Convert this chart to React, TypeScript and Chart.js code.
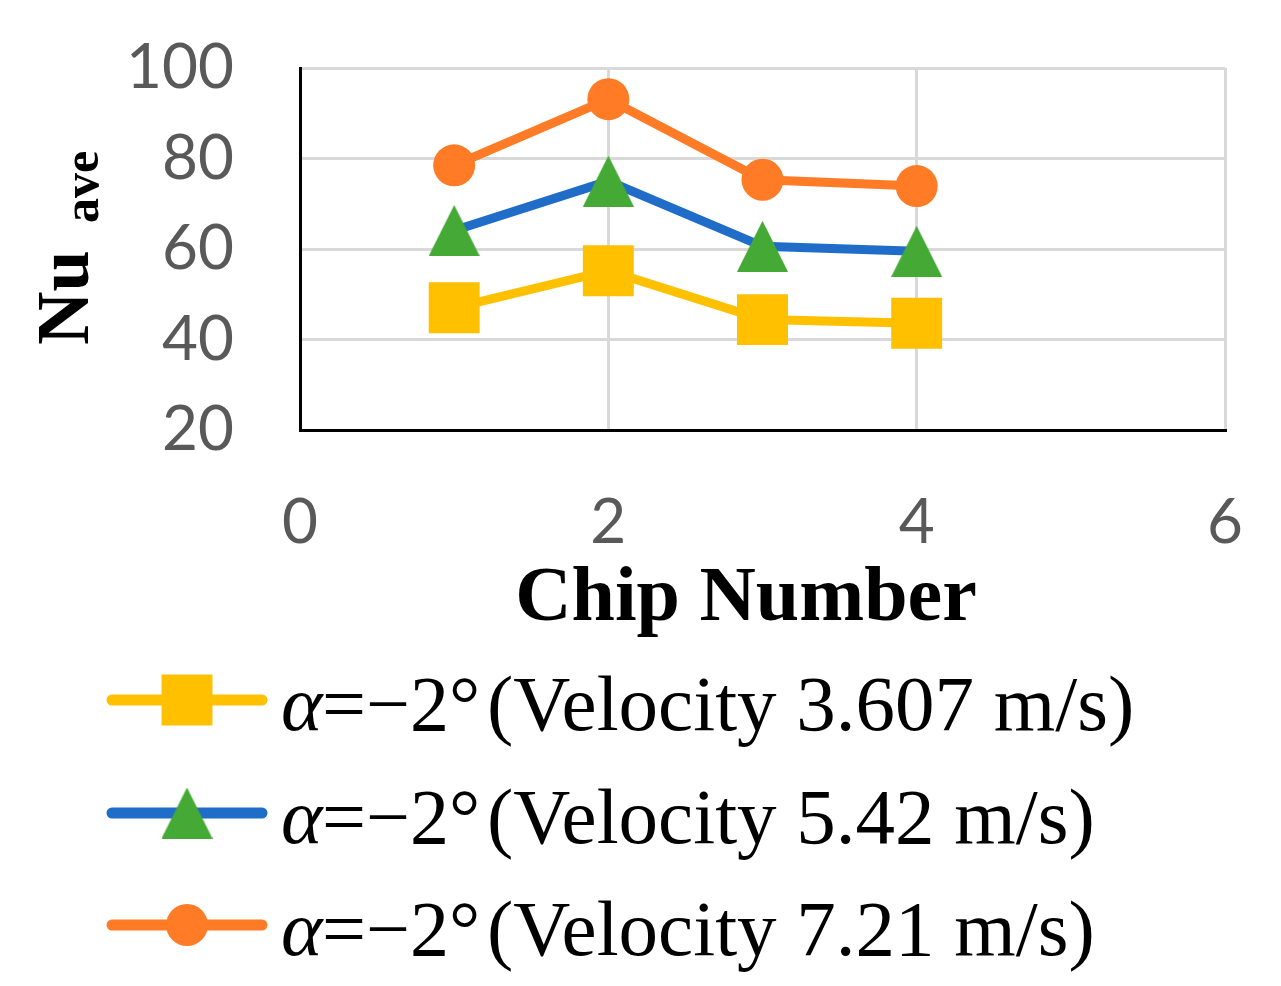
import { useEffect, useRef } from 'react';
import { Chart, registerables } from 'chart.js';
import { drawPoint } from 'chart.js/helpers';

Chart.register(...registerables);

// values
const chipNumbers = [1, 2, 3, 4];
const nuV3607 = [47.0, 55.2, 44.4, 43.6];
const nuV542 = [64.1, 75.0, 60.6, 59.5];
const nuV721 = [78.5, 93.1, 75.3, 73.9];
const velocities = ['3.607', '5.42', '7.21'];
const xTicks = [0, 2, 4, 6];
const yTicks = [20, 40, 60, 80, 100];

const SERIF = '"Liberation Serif", "Times New Roman", serif';
const SANS = 'Lato, "Open Sans", sans-serif';

function triangleMarker(color: string, size: number) {
  const c = document.createElement('canvas');
  c.width = size;
  c.height = size;
  const ctx = c.getContext('2d')!;
  ctx.fillStyle = color;
  ctx.beginPath();
  ctx.moveTo(size / 2, 0);
  ctx.lineTo(size, size);
  ctx.lineTo(0, size);
  ctx.closePath();
  ctx.fill();
  return c;
}

// axis titles: "Nu" with subscript "ave", and "Chip Number" a bit left of centre
const titlePlugin = {
  id: 'axisTitles',
  afterDraw(chart: Chart) {
    const ctx = chart.ctx;
    ctx.save();
    ctx.fillStyle = '#000';
    ctx.textBaseline = 'alphabetic';
    ctx.textAlign = 'center';
    ctx.font = `bold 78px ${SERIF}`;
    ctx.fillText('Chip Number', 746, 620);
    ctx.textAlign = 'left';
    ctx.translate(88, 345);
    ctx.rotate(-Math.PI / 2);
    ctx.font = `bold 74px ${SERIF}`;
    ctx.fillText('Nu', 0, 0);
    ctx.font = `bold 50px ${SERIF}`;
    ctx.fillText('ave', 122, 10);
    ctx.restore();
  },
};

const legendPlugin = {
  id: 'lineLegend',
  afterDraw(chart: Chart) {
    const ctx = chart.ctx;
    const rows = [700, 813, 925];
    chart.data.datasets.forEach((ds: any, i: number) => {
      const y = rows[i];
      const base = y + 30;
      ctx.save();
      ctx.strokeStyle = ds.borderColor;
      ctx.lineWidth = 11;
      ctx.lineCap = 'round';
      ctx.beginPath();
      ctx.moveTo(112, y);
      ctx.lineTo(262, y);
      ctx.stroke();
      ctx.fillStyle = ds.pointBackgroundColor;
      drawPoint(ctx, { pointStyle: ds.pointStyle, radius: ds.pointRadius, borderWidth: 0, rotation: 0 } as any, 187, y);
      ctx.fillStyle = '#000';
      ctx.textBaseline = 'alphabetic';
      ctx.font = `italic 79px ${SERIF}`;
      ctx.fillText('α', 281, base);
      ctx.font = `78px ${SERIF}`;
      ctx.fillText('=−2°', 322, base);
      ctx.font = `79px ${SERIF}`;
      ctx.fillText(`(Velocity ${velocities[i]} m/s)`, 487, base);
      ctx.restore();
    });
  },
};

export default function App() {
  const canvasRef = useRef<HTMLCanvasElement>(null);

  useEffect(() => {
    if (!canvasRef.current) return;
    const green = triangleMarker('#45A935', 51);

    const chart = new Chart(canvasRef.current, {
      type: 'line',
      data: {
        datasets: [
          {
            label: `α=−2° (Velocity ${velocities[0]} m/s)`,
            data: chipNumbers.map((x, i) => ({ x, y: nuV3607[i] })),
            borderColor: '#FFC000',
            backgroundColor: '#FFC000',
            pointBackgroundColor: '#FFC000',
            pointStyle: 'rect',
            pointRadius: 36,
            pointBorderWidth: 0,
            borderWidth: 9,
          },
          {
            label: `α=−2° (Velocity ${velocities[1]} m/s)`,
            data: chipNumbers.map((x, i) => ({ x, y: nuV542[i] })),
            borderColor: '#1F6DC8',
            backgroundColor: '#45A935',
            pointBackgroundColor: '#45A935',
            pointStyle: green,
            pointRadius: 25,
            pointBorderWidth: 0,
            borderWidth: 9,
          },
          {
            label: `α=−2° (Velocity ${velocities[2]} m/s)`,
            data: chipNumbers.map((x, i) => ({ x, y: nuV721[i] })),
            borderColor: '#FF7B25',
            backgroundColor: '#FF7B25',
            pointBackgroundColor: '#FF7B25',
            pointStyle: 'circle',
            pointRadius: 21,
            pointBorderWidth: 0,
            borderWidth: 9,
          },
        ],
      },
      options: {
        animation: false,
        responsive: true,
        maintainAspectRatio: false,
        layout: { padding: { left: 0, top: 68, right: 56, bottom: 333 } },
        plugins: {
          legend: { display: false },
          tooltip: { enabled: false },
        },
        scales: {
          x: {
            type: 'linear',
            min: 0,
            max: 6,
            afterBuildTicks: (scale: any) => {
              scale.ticks = xTicks.map((value) => ({ value }));
            },
            afterFit: (scale: any) => {
              scale.height = 223;
              scale.paddingLeft = 0;
              scale.paddingRight = 0;
            },
            grid: { color: '#D9D9D9', lineWidth: 3, drawTicks: false },
            border: { color: '#000', width: 3 },
            ticks: { color: '#595959', font: { family: SANS, size: 62 }, padding: 56 },
          },
          y: {
            type: 'linear',
            min: 20,
            max: 100,
            afterBuildTicks: (scale: any) => {
              scale.ticks = yTicks.map((value) => ({ value }));
            },
            afterFit: (scale: any) => {
              scale.width = 300;
              scale.paddingTop = 0;
              scale.paddingBottom = 0;
            },
            grid: { color: '#D9D9D9', lineWidth: 3, drawTicks: false },
            border: { color: '#000', width: 3 },
            ticks: { color: '#595959', font: { family: SANS, size: 62 }, padding: 66 },
          },
        },
      },
      plugins: [titlePlugin, legendPlugin],
    });

    return () => chart.destroy();
  }, []);

  return (
    <div style={{ position: 'fixed', left: 0, top: 0, width: 1281, height: 986, background: '#fff' }}>
      <canvas ref={canvasRef} />
    </div>
  );
}
